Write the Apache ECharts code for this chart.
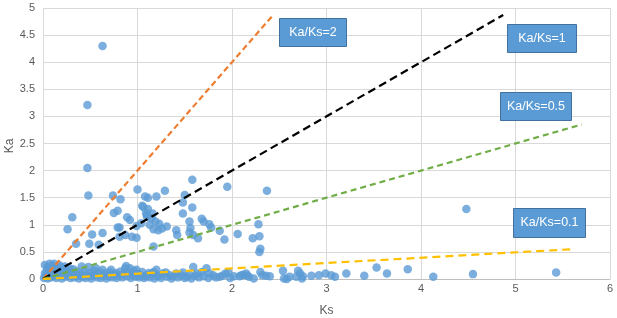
<!DOCTYPE html>
<html>
<head>
<meta charset="utf-8">
<script src="https://cdn.jsdelivr.net/npm/echarts@6/dist/echarts.min.js"></script>
<style>html,body{margin:0;padding:0;background:#fff}#c{width:617px;height:318px}</style>
</head>
<body>
<div id="c"></div>
<script>
// Ks / Ka point pairs
var upperPoints = [
[0.63,4.3],[0.47,3.21],[0.47,2.05],[0.48,1.54],[0.74,1.54],[0.82,1.47],[1.0,1.65],[1.08,1.52],[0.31,1.14],[0.26,0.92],
[0.75,1.22],[0.79,1.26],[0.89,1.14],[0.92,1.09],[0.79,0.95],[0.81,0.95],[0.63,0.85],[0.52,0.82],[0.49,0.65],[0.59,0.63],
[0.35,0.65],[0.81,0.78],[0.87,0.81],[0.94,0.78],[0.99,0.76],[0.99,0.98],[1.06,1.33],[1.1,1.18],
[1.58,1.83],[1.95,1.70],[1.29,1.63],[1.2,1.52],[1.11,1.5],[1.5,1.55],[1.05,1.35],[1.11,1.29],[1.16,1.21],[1.48,1.41],
[1.58,1.32],[1.48,1.21],[1.1,1.15],[1.19,1.06],[1.13,1.0],[1.17,0.92],[1.22,0.9],[1.31,0.97],[1.04,1.03],[1.55,1.06],
[1.56,0.94],[1.55,0.86],[1.59,0.81],[1.41,0.9],[1.42,0.81],[1.68,1.11],[1.70,1.06],[1.76,1.01],[1.78,0.95],[1.64,0.75],
[1.87,0.89],[1.92,0.73],[2.06,0.83],[1.17,0.60],[1.15,1.12],[1.23,1.02],[1.09,1.22],[1.26,0.93],
[2.37,1.63],[2.28,1.01],[2.29,0.79],[2.22,0.75],[2.30,0.56],[2.29,0.5],[4.48,1.29]
];
var lowPoints = [
[0.01,0.02],[0.02,0.1],[0.02,0.26],[0.03,0.05],[0.04,0.15],[0.05,0.01],[0.05,0.22],[0.06,0.08],[0.07,0.28],[0.08,0.03],
[0.08,0.18],[0.1,0.12],[0.1,0.25],[0.11,0.05],[0.12,0.28],[0.13,0.2],[0.14,0.02],[0.15,0.1],[0.16,0.15],[0.17,0.26],
[0.18,0.06],[0.19,0.22],[0.2,0.01],[0.21,0.13],[0.22,0.18],[0.23,0.23],[0.24,0.04],[0.25,0.09],[0.26,0.15],[0.28,0.2],
[0.29,0.02],[0.3,0.07],[0.31,0.12],[0.32,0.18],[0.33,0.03],[0.35,0.08],[0.36,0.14],[0.38,0.01],[0.39,0.06],[0.4,0.1],
[0.41,0.23],[0.42,0.04],[0.44,0.13],[0.45,0.02],[0.46,0.08],[0.48,0.22],[0.49,0.05],[0.5,0.11],[0.51,0.01],[0.53,0.07],
[0.54,0.15],[0.56,0.2],[0.57,0.03],[0.58,0.09],[0.6,0.13],[0.61,0.02],[0.63,0.17],[0.64,0.06],[0.66,0.1],[0.67,0.01],
[0.69,0.05],[0.7,0.13],[0.72,0.17],[0.73,0.03],[0.75,0.08],[0.77,0.11],[0.78,0.02],[0.8,0.06],[0.82,0.14],[0.84,0.03],
[0.85,0.09],[0.87,0.2],[0.88,0.24],[0.89,0.05],[0.9,0.12],[0.92,0.2],[0.93,0.02],[0.95,0.08],[0.96,0.15],[0.98,0.04],
[0.99,0.17],[1.0,0.1],[1.02,0.03],[1.03,0.07],[1.05,0.13],[1.07,0.02],[1.08,0.05],[1.1,0.07],[1.12,0.11],[1.13,0.03],
[1.15,0.09],[1.17,0.13],[1.18,0.01],[1.2,0.17],[1.21,0.05],[1.23,0.07],[1.25,0.02],[1.27,0.1],[1.3,0.12],[1.31,0.04],
[1.34,0.07],[1.36,0.01],[1.38,0.05],[1.41,0.1],[1.43,0.03],[1.46,0.07],[1.48,0.12],[1.5,0.02],[1.52,0.04],[1.55,0.08],
[1.57,0.01],[1.59,0.22],[1.61,0.06],[1.63,0.1],[1.65,0.03],[1.68,0.13],[1.7,0.05],[1.73,0.2],[1.75,0.02],[1.76,0.1],
[1.8,0.07],[1.83,0.03],[1.87,0.04],[1.9,0.06],[1.93,0.1],[1.96,0.13],[1.98,0.02],[2.02,0.05],[2.08,0.05],[2.12,0.08],
[2.15,0.1],[2.1,0.07],[2.16,0.06],[2.18,0.04],[2.23,0.01],[2.3,0.13],[2.32,0.07],[2.36,0.06],[2.4,0.05],[2.54,0.15],
[2.55,0.01],[2.58,0.0],[2.61,0.04],[2.68,0.04],[2.7,0.15],[2.72,0.1],[2.74,0.01],[2.75,0.05],[2.84,0.06],[2.92,0.07],
[2.99,0.1],[3.05,0.07],[3.09,0.04],[3.21,0.1],[3.4,0.06],[3.53,0.21],[3.64,0.1],[3.86,0.18],[4.13,0.04],[4.55,0.09],
[5.43,0.12]
];
// Reference lines Ka/Ks = ratio, drawn from origin to the end
var lineNames = ['Ka/Ks=2','Ka/Ks=1','Ka/Ks=0.5','Ka/Ks=0.1'];
var lineEndKs = [2.42, 4.87, 5.70, 5.60];
var lineEndKa = [4.84, 4.87, 2.85, 0.55];
var lineColors = ['#ED7D31','#000000','#70AD47','#FFC000'];
var lineDash = [[6,3.5],[8,4.5],[6,4],[8,5]];
var axisNames = {x:'Ks', y:'Ka'};
var xTicks = {min:0, max:6, interval:1};
var yTicks = {min:0, max:5, interval:0.5};

var chart = echarts.init(document.getElementById('c'), null, {renderer:'canvas'});
var series = [{
  type:'scatter', symbol:'circle', symbolSize:8.5,
  data: upperPoints.concat(lowPoints),
  itemStyle:{color:'#5B9BD5'}, z:2, silent:true
}];
for (var i=0;i<lineNames.length;i++){
  series.push({
    type:'line', name:lineNames[i], symbol:'none', z:3, silent:true,
    data:[[0,0],[lineEndKs[i], lineEndKa[i]]],
    lineStyle:{color:lineColors[i], width:2.2, type:lineDash[i]}
  });
}
function box(x,y,w,h,t){
  return {type:'group', left:x, top:y, z:100, children:[
    {type:'rect', z:100, shape:{x:0,y:0,width:w,height:h}, style:{fill:'#5B9BD5', stroke:'#41719C', lineWidth:1}},
    {type:'text', z:101, x:w/2, y:h/2, style:{text:t, fill:'#fff', font:'12.5px "Liberation Sans", sans-serif', align:'center', verticalAlign:'middle'}}
  ]};
}
chart.setOption({
  animation:false,
  grid:{left:43, right:7, top:8, bottom:39, containLabel:false, outerBoundsMode:'none'},
  xAxis:{type:'value', min:xTicks.min, max:xTicks.max, interval:xTicks.interval,
    name:axisNames.x, nameLocation:'middle', nameGap:26,
    nameTextStyle:{color:'#595959', fontSize:12, fontFamily:'Liberation Sans'},
    axisLine:{show:true, onZero:false, lineStyle:{color:'#BFBFBF'}}, axisTick:{show:false},
    axisLabel:{color:'#595959', fontSize:11, fontFamily:'Liberation Sans', margin:4},
    splitLine:{show:true, lineStyle:{color:'#D9D9D9'}}},
  yAxis:{type:'value', min:yTicks.min, max:yTicks.max, interval:yTicks.interval,
    axisLine:{show:false}, axisTick:{show:false},
    axisLabel:{color:'#595959', fontSize:11, fontFamily:'Liberation Sans', margin:8},
    splitLine:{show:true, lineStyle:{color:'#D9D9D9'}}},
  series:series,
  graphic:[
    {type:'text', x:10, y:146, rotation:Math.PI/2, style:{text:axisNames.y, fill:'#595959', font:'12px "Liberation Sans", sans-serif', align:'center', verticalAlign:'middle'}},
    box(279,18,67,28,lineNames[0]),
    box(507,24,69,28,lineNames[1]),
    box(500,92,71,28,lineNames[2]),
    box(513,208,72,29,lineNames[3])
  ]
});
</script>
</body>
</html>
